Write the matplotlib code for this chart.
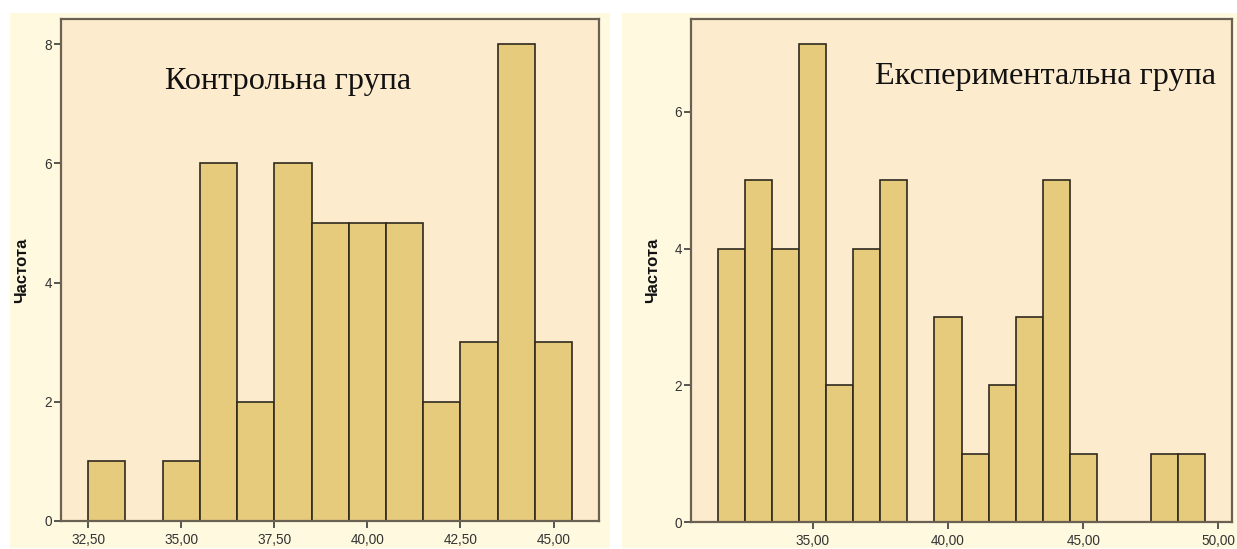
import matplotlib
matplotlib.use("Agg")
import matplotlib.pyplot as plt
from matplotlib.patches import Rectangle
from matplotlib.ticker import FuncFormatter

# Data
control_bins = [33, 35, 36, 37, 38, 39, 40, 41, 42, 43, 44, 45]
control_counts = [1, 1, 6, 2, 6, 5, 5, 5, 2, 3, 8, 3]
exper_bins = [32, 33, 34, 35, 36, 37, 38, 39, 40, 41, 42, 43, 44, 45, 46, 47, 48, 49]
exper_counts = [4, 5, 4, 7, 2, 4, 5, 0, 3, 1, 2, 3, 5, 1, 0, 0, 1, 1]
control_xticks = [32.5, 35.0, 37.5, 40.0, 42.5, 45.0]
exper_xticks = [35.0, 40.0, 45.0, 50.0]
control_yticks = [0, 2, 4, 6, 8]
exper_yticks = [0, 2, 4, 6]
titles = ["Контрольна група", "Експериментальна група"]
ylabel = "Частота"

W, H = 1237, 549
fig = plt.figure(figsize=(W / 100, H / 100), dpi=100)
fig.patch.set_facecolor("white")

outer_bg = "#FFFADF"
plot_bg = "#FDEBCD"
bar_color = "#E6CB7C"
bar_edge = "#2F2A1F"
frame = "#6B6152"

# outer panels
fig.patches.append(Rectangle((10 / W, 1 / H), 600 / W, 535 / H, transform=fig.transFigure,
                             facecolor=outer_bg, edgecolor="none", zorder=-10))
fig.patches.append(Rectangle((622 / W, 1 / H), 615 / W, 535 / H, transform=fig.transFigure,
                             facecolor=outer_bg, edgecolor="none", zorder=-10))

def px_axes(x0, x1, ytop, ybot):
    return fig.add_axes([x0 / W, (H - ybot) / H, (x1 - x0) / W, (ybot - ytop) / H])

ax1 = px_axes(61, 599, 19, 521)
ax2 = px_axes(691, 1232, 19, 522)

fmt = FuncFormatter(lambda v, p: f"{v:.2f}".replace(".", ","))

def style(ax, bins, counts, xticks, yticks, xlim, ylim, title, tx, ty, lx):
    ax.set_facecolor(plot_bg)
    ax.bar(bins, counts, width=1.0, color=bar_color, edgecolor=bar_edge, linewidth=1.2, zorder=2)
    ax.set_xlim(*xlim)
    ax.set_ylim(*ylim)
    ax.set_xticks(xticks)
    ax.xaxis.set_major_formatter(fmt)
    ax.set_yticks(yticks)
    for s in ax.spines.values():
        s.set_color(frame)
        s.set_linewidth(1.6)
    ax.tick_params(axis="both", direction="out", length=5, width=1.2, color="#3A3A3A",
                   labelsize=9.8, labelcolor="#333333")
    ax.tick_params(axis="x", pad=3.5)
    ax.tick_params(axis="y", pad=1.5)
    for lab in ax.get_xticklabels() + ax.get_yticklabels():
        lab.set_family("Liberation Sans")
    ax.set_ylabel(ylabel, fontsize=12, fontweight="bold", family="Liberation Sans",
                  va="center", color="#111111")
    ax.yaxis.set_label_coords(lx, 0.5)
    ax.text(tx, ty, title, transform=ax.transAxes, ha="left", va="baseline",
            fontsize=23.2, family="Liberation Serif", color="#111111", zorder=3)

style(ax1, control_bins, control_counts, control_xticks, control_yticks,
      (31.77, 46.22), (0, 8.42), titles[0], (165 - 61) / 538, (521 - 89) / 502, (22 - 61) / 538)
style(ax2, exper_bins, exper_counts, exper_xticks, exper_yticks,
      (30.5, 50.5), (0, 7.36), titles[1], (875 - 691) / 541, (522 - 84) / 503, (653 - 691) / 541)

fig.savefig("out.png", dpi=100, facecolor=fig.get_facecolor())
